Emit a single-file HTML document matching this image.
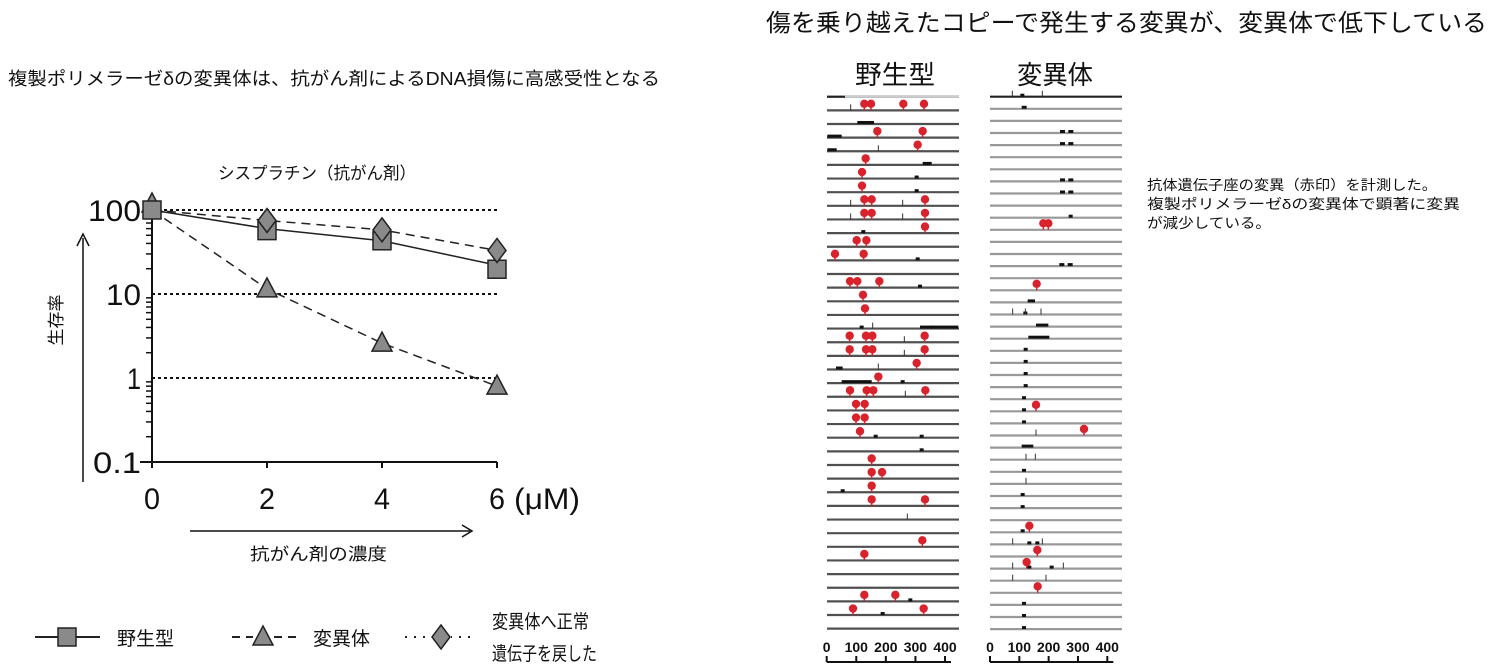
<!DOCTYPE html>
<html><head><meta charset="utf-8"><style>
html,body{margin:0;padding:0;background:#fff;width:1494px;height:671px;overflow:hidden}
svg text{font-family:"Liberation Sans","Noto Sans CJK JP",sans-serif;fill:#111}
</style></head><body>
<svg id="s" width="1494" height="671" xmlns="http://www.w3.org/2000/svg">
<text x="8" y="85" font-size="18" textLength="652" lengthAdjust="spacingAndGlyphs">複製ポリメラーゼδの変異体は、抗がん剤によるDNA損傷に高感受性となる</text>
<text x="766" y="31" font-size="24" textLength="721" lengthAdjust="spacingAndGlyphs">傷を乗り越えたコピーで発生する変異が、変異体で低下している</text>
<text x="855" y="84" font-size="26" textLength="80" lengthAdjust="spacingAndGlyphs">野生型</text>
<text x="1017" y="84" font-size="26" textLength="76" lengthAdjust="spacingAndGlyphs">変異体</text>
<text x="1147" y="190" font-size="14" textLength="290" lengthAdjust="spacingAndGlyphs">抗体遺伝子座の変異（赤印）を計測した。</text>
<text x="1147" y="209" font-size="14" textLength="313" lengthAdjust="spacingAndGlyphs">複製ポリメラーゼδの変異体で顕著に変異</text>
<text x="1147" y="228" font-size="14" textLength="124" lengthAdjust="spacingAndGlyphs">が減少している。</text>

<text x="218" y="179" font-size="17" textLength="198" lengthAdjust="spacingAndGlyphs">シスプラチン（抗がん剤）</text>
<g id="chart"></g>
<g id="dna"></g>
</svg>
<script>
var NS="http://www.w3.org/2000/svg";
function el(p,t,a,txt){var e=document.createElementNS(NS,t);for(var k in a)e.setAttribute(k,a[k]);if(txt!=null)e.textContent=txt;p.appendChild(e);return e;}
var c=document.getElementById("chart");
var X0=152,XU=57.5;function X(v){return X0+v*XU}
function Y(v){return 378-Math.log10(v)*84}
[100,10,1].forEach(function(v){el(c,"line",{x1:152,x2:497,y1:Y(v),y2:Y(v),stroke:"#111","stroke-width":2,"stroke-dasharray":"3,3"})});
el(c,"line",{x1:152,x2:152,y1:205,y2:463,stroke:"#111","stroke-width":2});
el(c,"line",{x1:140,x2:497,y1:462,y2:462,stroke:"#111","stroke-width":2});
[0,2,4,6].forEach(function(v){el(c,"line",{x1:X(v),x2:X(v),y1:462,y2:468,stroke:"#111","stroke-width":2})});
for(var d=-1;d<2;d++)for(var m=2;m<10;m++){var y=Y(m*Math.pow(10,d));el(c,"line",{x1:146,x2:152,y1:y,y2:y,stroke:"#111","stroke-width":1.5})}
[[100,"100",53],[10,"10",35],[1,"1",14],[0.1,"0.1",48]].forEach(function(p){el(c,"text",{x:141-p[2],y:Y(p[0])+11,"font-size":30,textLength:p[2],lengthAdjust:"spacingAndGlyphs"},p[1])});
[0,2,4,6].forEach(function(v){el(c,"text",{x:X(v)-8,y:509,"font-size":30,textLength:16,lengthAdjust:"spacingAndGlyphs"},String(v))});
el(c,"text",{x:514,y:509,"font-size":30,textLength:66,lengthAdjust:"spacingAndGlyphs"},"(μM)");
el(c,"line",{x1:83,x2:83,y1:482,y2:238,stroke:"#111","stroke-width":1.5});
el(c,"path",{d:"M77,246 L83,234 L89,246",fill:"none",stroke:"#111","stroke-width":1.5});
el(c,"line",{x1:190,x2:470,y1:531,y2:531,stroke:"#111","stroke-width":1.5});
el(c,"path",{d:"M462,525 L472,531 L462,537",fill:"none",stroke:"#111","stroke-width":1.5});
el(c,"text",{x:250,y:560,"font-size":17,textLength:137,lengthAdjust:"spacingAndGlyphs"},"抗がん剤の濃度");
el(c,"text",{x:0,y:0,"font-size":17,transform:"translate(62,320) rotate(-90)","text-anchor":"middle"},"生存率");
var wt=[[0,100],[2,60],[4,43],[6,22]],mu=[[0,100],[2,11.5],[4,2.6],[6,0.8]],rs=[[0,100],[2,75],[4,58],[6,33]];
function pts(a){return a.map(function(p){return X(p[0])+","+Y(p[1])}).join(" ")}
el(c,"polyline",{points:pts(rs),fill:"none",stroke:"#222","stroke-width":1.5,"stroke-dasharray":"9,6"});
el(c,"polyline",{points:pts(mu),fill:"none",stroke:"#222","stroke-width":1.5,"stroke-dasharray":"9,6"});
el(c,"polyline",{points:pts(wt),fill:"none",stroke:"#222","stroke-width":1.5});
function sq(g,x,y){el(g,"rect",{x:x-9,y:y-9,width:18,height:18,fill:"#8a8a8a",stroke:"#222","stroke-width":1.5})}
function tri(g,x,y){el(g,"path",{d:"M"+x+","+(y-11)+" L"+(x+10)+","+(y+8)+" L"+(x-10)+","+(y+8)+"Z",fill:"#8a8a8a",stroke:"#222","stroke-width":1.5})}
function dia(g,x,y){el(g,"path",{d:"M"+x+","+(y-12)+" L"+(x+9)+","+y+" L"+x+","+(y+12)+" L"+(x-9)+","+y+"Z",fill:"#8a8a8a",stroke:"#222","stroke-width":1.5})}
mu.forEach(function(p,i){tri(c,X(p[0]),Y(p[1])-(i==0?6:0))});
wt.forEach(function(p){sq(c,X(p[0]),Y(p[1])+(p[0]==6?4:p[0]==2?2:0))});
rs.slice(1).forEach(function(p){dia(c,X(p[0]),Y(p[1]))});
var ly=637;
el(c,"line",{x1:35,x2:100,y1:ly,y2:ly,stroke:"#222","stroke-width":2});sq(c,67,ly);
el(c,"text",{x:117,y:ly+8,"font-size":19},"野生型");
el(c,"line",{x1:232,x2:296,y1:ly,y2:ly,stroke:"#222","stroke-width":2,"stroke-dasharray":"8,6"});
el(c,"rect",{x:253,y:ly-12,width:20,height:22,fill:"#fff"});tri(c,263,ly);
el(c,"text",{x:313,y:ly+8,"font-size":19},"変異体");
el(c,"line",{x1:405,x2:470,y1:ly,y2:ly,stroke:"#222","stroke-width":2,"stroke-dasharray":"2,7"});
el(c,"rect",{x:431,y:ly-13,width:20,height:26,fill:"#fff"});dia(c,441,ly);
el(c,"text",{x:492,y:ly-9,"font-size":19,textLength:97,lengthAdjust:"spacingAndGlyphs"},"変異体へ正常");
el(c,"text",{x:492,y:ly+23,"font-size":19,textLength:105,lengthAdjust:"spacingAndGlyphs"},"遺伝子を戻した");

var g=document.getElementById("dna");
function zx(z){return 820+z/3}
function pin(x,y){el(g,"line",{x1:x,x2:x,y1:y,y2:y-5,stroke:"#d8222c","stroke-width":1.5});el(g,"circle",{cx:x,cy:y-6.5,r:4.2,fill:"#d8222c"})}
function blk(x,y){el(g,"rect",{x:x-2,y:y-3,width:4,height:3,fill:"#111"})}
function tick(x,y){el(g,"line",{x1:x,x2:x,y1:y,y2:y-6,stroke:"#333","stroke-width":1})}
function bar(a,b,y){el(g,"rect",{x:a,y:y-3,width:b-a,height:3,fill:"#111"})}
var WT={1:{d:[133,153,250,312],t:[92]},2:{b:[[112,162]]},3:{d:[172,308],b:[[22,65]]},4:{d:[293],b:[[22,50]],t:[175]},5:{d:[137],b:[[308,335]]},6:{d:[126],k:[290]},7:{d:[126],k:[290]},8:{d:[133,155,315],t:[92,248]},9:{d:[133,155,315],t:[92,248]},10:{d:[315],k:[130]},11:{d:[110,139]},12:{d:[45,131],k:[293]},14:{d:[90,112,178],k:[300]},15:{d:[129]},16:{d:[135]},17:{b:[[300,335],[330,415]],k:[125],t:[158]},18:{d:[89,138,157,314],t:[253]},19:{d:[89,138,157,314],t:[253]},20:{d:[290],b:[[48,68]],t:[175]},21:{d:[175],b:[[65,155]],k:[248]},22:{d:[90,140,160,316],t:[256]},23:{d:[108,134]},24:{d:[108,134]},25:{d:[120],k:[167,305]},26:{k:[305]},27:{d:[155]},28:{d:[155,186]},29:{d:[155],k:[68]},30:{d:[155,315]},31:{t:[262]},33:{d:[307]},34:{d:[133]},37:{d:[133,226],k:[271]},38:{d:[99,311],k:[188]}};
var MU={0:{t:[577,667],k:[607]},1:{b:[[605,620]]},3:{b:[[720,735],[745,760]]},4:{b:[[720,735],[745,760]]},7:{b:[[720,735],[745,760]]},8:{b:[[720,735],[745,760]]},10:{k:[752]},11:{d:[670,685]},14:{b:[[718,733],[743,758]]},16:{d:[650]},17:{b:[[623,645]]},18:{t:[578,616,663],k:[616]},19:{b:[[648,685]]},20:{b:[[625,688]]},21:{k:[617]},22:{k:[617]},23:{k:[617]},24:{k:[617]},25:{k:[612]},26:{k:[612],d:[648]},27:{k:[612]},28:{t:[648],d:[792]},29:{b:[[605,640]]},30:{t:[618,646]},31:{k:[612]},32:{t:[618]},33:{k:[608]},34:{k:[608]},36:{k:[608],d:[628]},37:{t:[578,667],k:[628,652]},38:{d:[652]},39:{d:[620],k:[628,695],t:[578,730]},40:{t:[578,678]},41:{d:[653]},42:{k:[612]},43:{k:[612]},44:{k:[612]}};
function draw(D,n,y0,dy,xa,xb,col){
 for(var i=0;i<n;i++){var y=y0+i*dy;
  el(g,"line",{x1:xa,x2:xb,y1:y,y2:y,stroke:(i==0&&col=="#999")?"#222":col,"stroke-width":2.2});
  var r=D[i];if(!r)continue;
  (r.b||[]).forEach(function(b){bar(zx(b[0]),zx(b[1]),y)});
  (r.k||[]).forEach(function(k){blk(zx(k),y)});
  (r.t||[]).forEach(function(k){tick(zx(k),y)});
  (r.d||[]).forEach(function(k){pin(zx(k),y)});
 }}
draw(WT,40,96.7,13.64,827,959,"#505050");
el(g,"line",{x1:827,x2:845,y1:96.7,y2:96.7,stroke:"#222","stroke-width":2});
el(g,"line",{x1:845,x2:959,y1:96.7,y2:96.7,stroke:"#ccc","stroke-width":2});
draw(MU,45,96.7,12.1,990,1122,"#999");
function scale(x0,x1){el(g,"line",{x1:x0,x2:x1+6,y1:662,y2:662,stroke:"#111","stroke-width":2});
 for(var i=0;i<5;i++){var x=x0+i*(x1-x0)/4;el(g,"line",{x1:x,x2:x,y1:656,y2:662,stroke:"#111","stroke-width":2});
 el(g,"text",{x:x,y:652,"font-size":14,"font-weight":"bold","text-anchor":"middle"},String(i*100))}}
scale(826.7,945);scale(990,1107.3);
</script>
</body></html>
